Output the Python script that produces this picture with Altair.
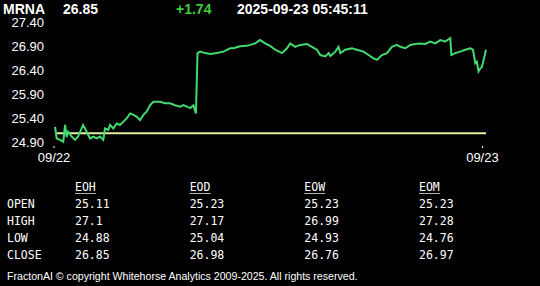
import altair as alt
import pandas as pd

# ---- data ----
hours = [0.06, 0.15, 0.34, 0.52, 0.62, 0.71, 0.79, 0.99, 1.18, 1.35, 1.63, 1.83, 2.02, 2.20, 2.39,
         2.58, 2.76, 2.86, 3.04, 3.14, 3.32, 3.52, 3.70, 3.89, 4.08, 4.26, 4.45, 4.64, 4.82, 5.01,
         5.20, 5.38, 5.57, 5.76, 5.94, 6.22, 6.50, 6.78, 7.07, 7.25, 7.44, 7.63, 7.81, 7.95, 8.04,
         8.19, 8.47, 8.75, 9.12, 9.49, 9.87, 10.05, 10.43, 10.80, 10.99, 11.27, 11.55, 11.83, 12.11,
         12.39, 12.77, 13.05, 13.23, 13.51, 13.79, 14.17, 14.45, 14.73, 14.92, 15.20, 15.38, 15.48,
         15.76, 15.94, 16.04, 16.32, 16.69, 16.97, 17.34, 17.62, 17.90, 18.09, 18.37, 18.65, 18.93,
         19.21, 19.40, 19.68, 19.96, 20.24, 20.52, 20.80, 21.08, 21.36, 21.64, 21.92, 22.20, 22.26,
         22.48, 22.76, 23.04, 23.32, 23.47, 23.60, 23.69, 23.78, 23.88, 23.97, 24.07, 24.20]
prices = [25.24, 25.00, 24.97, 24.93, 25.28, 25.03, 25.14, 25.04, 24.97, 25.04, 25.28, 25.14, 25.00, 25.04, 25.00,
          25.04, 24.97, 25.21, 25.18, 25.28, 25.21, 25.31, 25.28, 25.35, 25.42, 25.52, 25.49, 25.45, 25.38, 25.49,
          25.56, 25.69, 25.76, 25.76, 25.76, 25.73, 25.73, 25.69, 25.66, 25.69, 25.66, 25.63, 25.69, 25.52, 26.77,
          26.80, 26.77, 26.75, 26.77, 26.80, 26.87, 26.87, 26.91, 26.92, 26.94, 26.97, 27.04, 26.97, 26.92,
          26.84, 26.77, 26.87, 26.97, 26.90, 26.94, 26.96, 26.90, 26.84, 26.73, 26.70, 26.77, 26.71,
          26.80, 26.90, 26.77, 26.84, 26.87, 26.84, 26.80, 26.73, 26.66, 26.63, 26.73, 26.77, 26.90,
          26.94, 26.90, 26.87, 26.94, 26.96, 26.97, 26.96, 27.01, 26.97, 27.04, 27.01, 27.08, 26.73,
          26.77, 26.80, 26.84, 26.87, 26.84, 26.56, 26.59, 26.39, 26.45, 26.48, 26.63, 26.84]
prev_close = 25.11

y_ticks = [24.90, 25.40, 25.90, 26.40, 26.90, 27.40]
x_tick_hours = [0, 24]
x_tick_labels = ["09/22", "09/23"]

symbol = "MRNA"
last = "26.85"
change = "+1.74"
stamp = "2025-09-23 05:45:11"

periods = ["EOH", "EOD", "EOW", "EOM"]
row_names = ["OPEN", "HIGH", "LOW", "CLOSE"]
opens = ["25.11", "25.23", "25.23", "25.23"]
highs = ["27.1", "27.17", "26.99", "27.28"]
lows = ["24.88", "25.04", "24.93", "24.76"]
closes = ["26.85", "26.98", "26.76", "26.97"]
footer = "FractonAI \u00a9 copyright Whitehorse Analytics 2009-2025. All rights reserved."

# ---- tables ----
line_df = pd.DataFrame({"t": hours, "p": prices})
base_df = pd.DataFrame({"t": [hours[0], hours[-1]], "p": [prev_close, prev_close]})
ytick_df = pd.DataFrame({"v": y_ticks, "lab": [f"{v:.2f}" for v in y_ticks]})
xtick_df = pd.DataFrame({"t": x_tick_hours, "lab": x_tick_labels})
tbl_rows = []
for r, vals in zip(row_names, [opens, highs, lows, closes]):
    for c, v in zip(periods, vals):
        tbl_rows.append({"row": r, "col": c, "val": v})
tbl_df = pd.DataFrame(tbl_rows)
hdr_df = pd.DataFrame({"col": periods})
rowlab_df = pd.DataFrame({"row": row_names})

xs = alt.Scale(domain=[0, 24.2], range=[54, 486])
ys = alt.Scale(domain=[24.85, 27.45], range=[145.7, 20.3])
cs = alt.Scale(type="point", domain=periods, range=[75, 419], padding=0)
rs = alt.Scale(type="point", domain=row_names, range=[205, 256], padding=0)

FONT = "Liberation Sans"
MONO = "DejaVu Sans Mono"

line = alt.Chart(line_df).mark_line(color="#44d870", strokeWidth=2, interpolate="linear").encode(
    x=alt.X("t:Q", scale=xs, axis=None), y=alt.Y("p:Q", scale=ys, axis=None))
base = alt.Chart(base_df).mark_line(color="#e2eea4", strokeWidth=2).encode(
    x=alt.X("t:Q", scale=xs, axis=None), y=alt.Y("p:Q", scale=ys, axis=None))
ylab = alt.Chart(ytick_df).mark_text(align="right", baseline="middle", font=FONT, fontSize=13,
                                     color="white").encode(
    x=alt.value(44), y=alt.Y("v:Q", scale=ys, axis=None), text="lab:N")
xlab = alt.Chart(xtick_df).mark_text(align="center", baseline="middle", font=FONT, fontSize=13,
                                     color="white").encode(
    x=alt.X("t:Q", scale=xs, axis=None), y=alt.value(158), text="lab:N")
xtk = alt.Chart(xtick_df).mark_rule(color="white", strokeWidth=1).encode(
    x=alt.X("t:Q", scale=xs, axis=None), y=alt.value(146), y2=alt.value(148))


def head(txt, xpos, color="white"):
    return alt.Chart(pd.DataFrame({"txt": [txt]})).mark_text(
        align="left", baseline="alphabetic", font=FONT, fontSize=14, fontWeight="bold",
        color=color).encode(x=alt.value(xpos), y=alt.value(13.5), text="txt:N")


h1 = head(symbol, 3)
h2 = head(last, 63)
h3 = head(change, 176, "#3ccf3c")
h4 = head(stamp, 237)

col_hdr = alt.Chart(hdr_df).mark_text(align="left", baseline="middle", font=MONO, fontSize=11.5,
                                      color="white").encode(
    x=alt.X("col:N", scale=cs, axis=None), y=alt.value(188), text="col:N")
col_ul = alt.Chart(hdr_df).mark_tick(orient="horizontal", size=21, thickness=1, color="white",
                                     xOffset=10.5).encode(
    x=alt.X("col:N", scale=cs, axis=None), y=alt.value(193.5))
row_lab = alt.Chart(rowlab_df).mark_text(align="left", baseline="middle", font=MONO, fontSize=11.5,
                                         color="white").encode(
    x=alt.value(7), y=alt.Y("row:N", scale=rs, axis=None), text="row:N")
cells = alt.Chart(tbl_df).mark_text(align="left", baseline="middle", font=MONO, fontSize=11.5,
                                    color="white").encode(
    x=alt.X("col:N", scale=cs, axis=None), y=alt.Y("row:N", scale=rs, axis=None), text="val:N")
foot = alt.Chart(pd.DataFrame({"txt": [footer]})).mark_text(
    align="left", baseline="middle", font=FONT, fontSize=10.6, color="white").encode(
    x=alt.value(7), y=alt.value(276.5), text="txt:N")

chart = alt.layer(base, line, ylab, xlab, xtk, h1, h2, h3, h4, col_hdr, col_ul, row_lab, cells, foot
                  ).resolve_scale(x="independent", y="independent").properties(
    width=540, height=286, background="black", padding=0,
    autosize=alt.AutoSizeParams(type="none"),
).configure_view(stroke=None, fill="black")

chart.save("out.html", embed_options={"renderer": "svg", "actions": False})
